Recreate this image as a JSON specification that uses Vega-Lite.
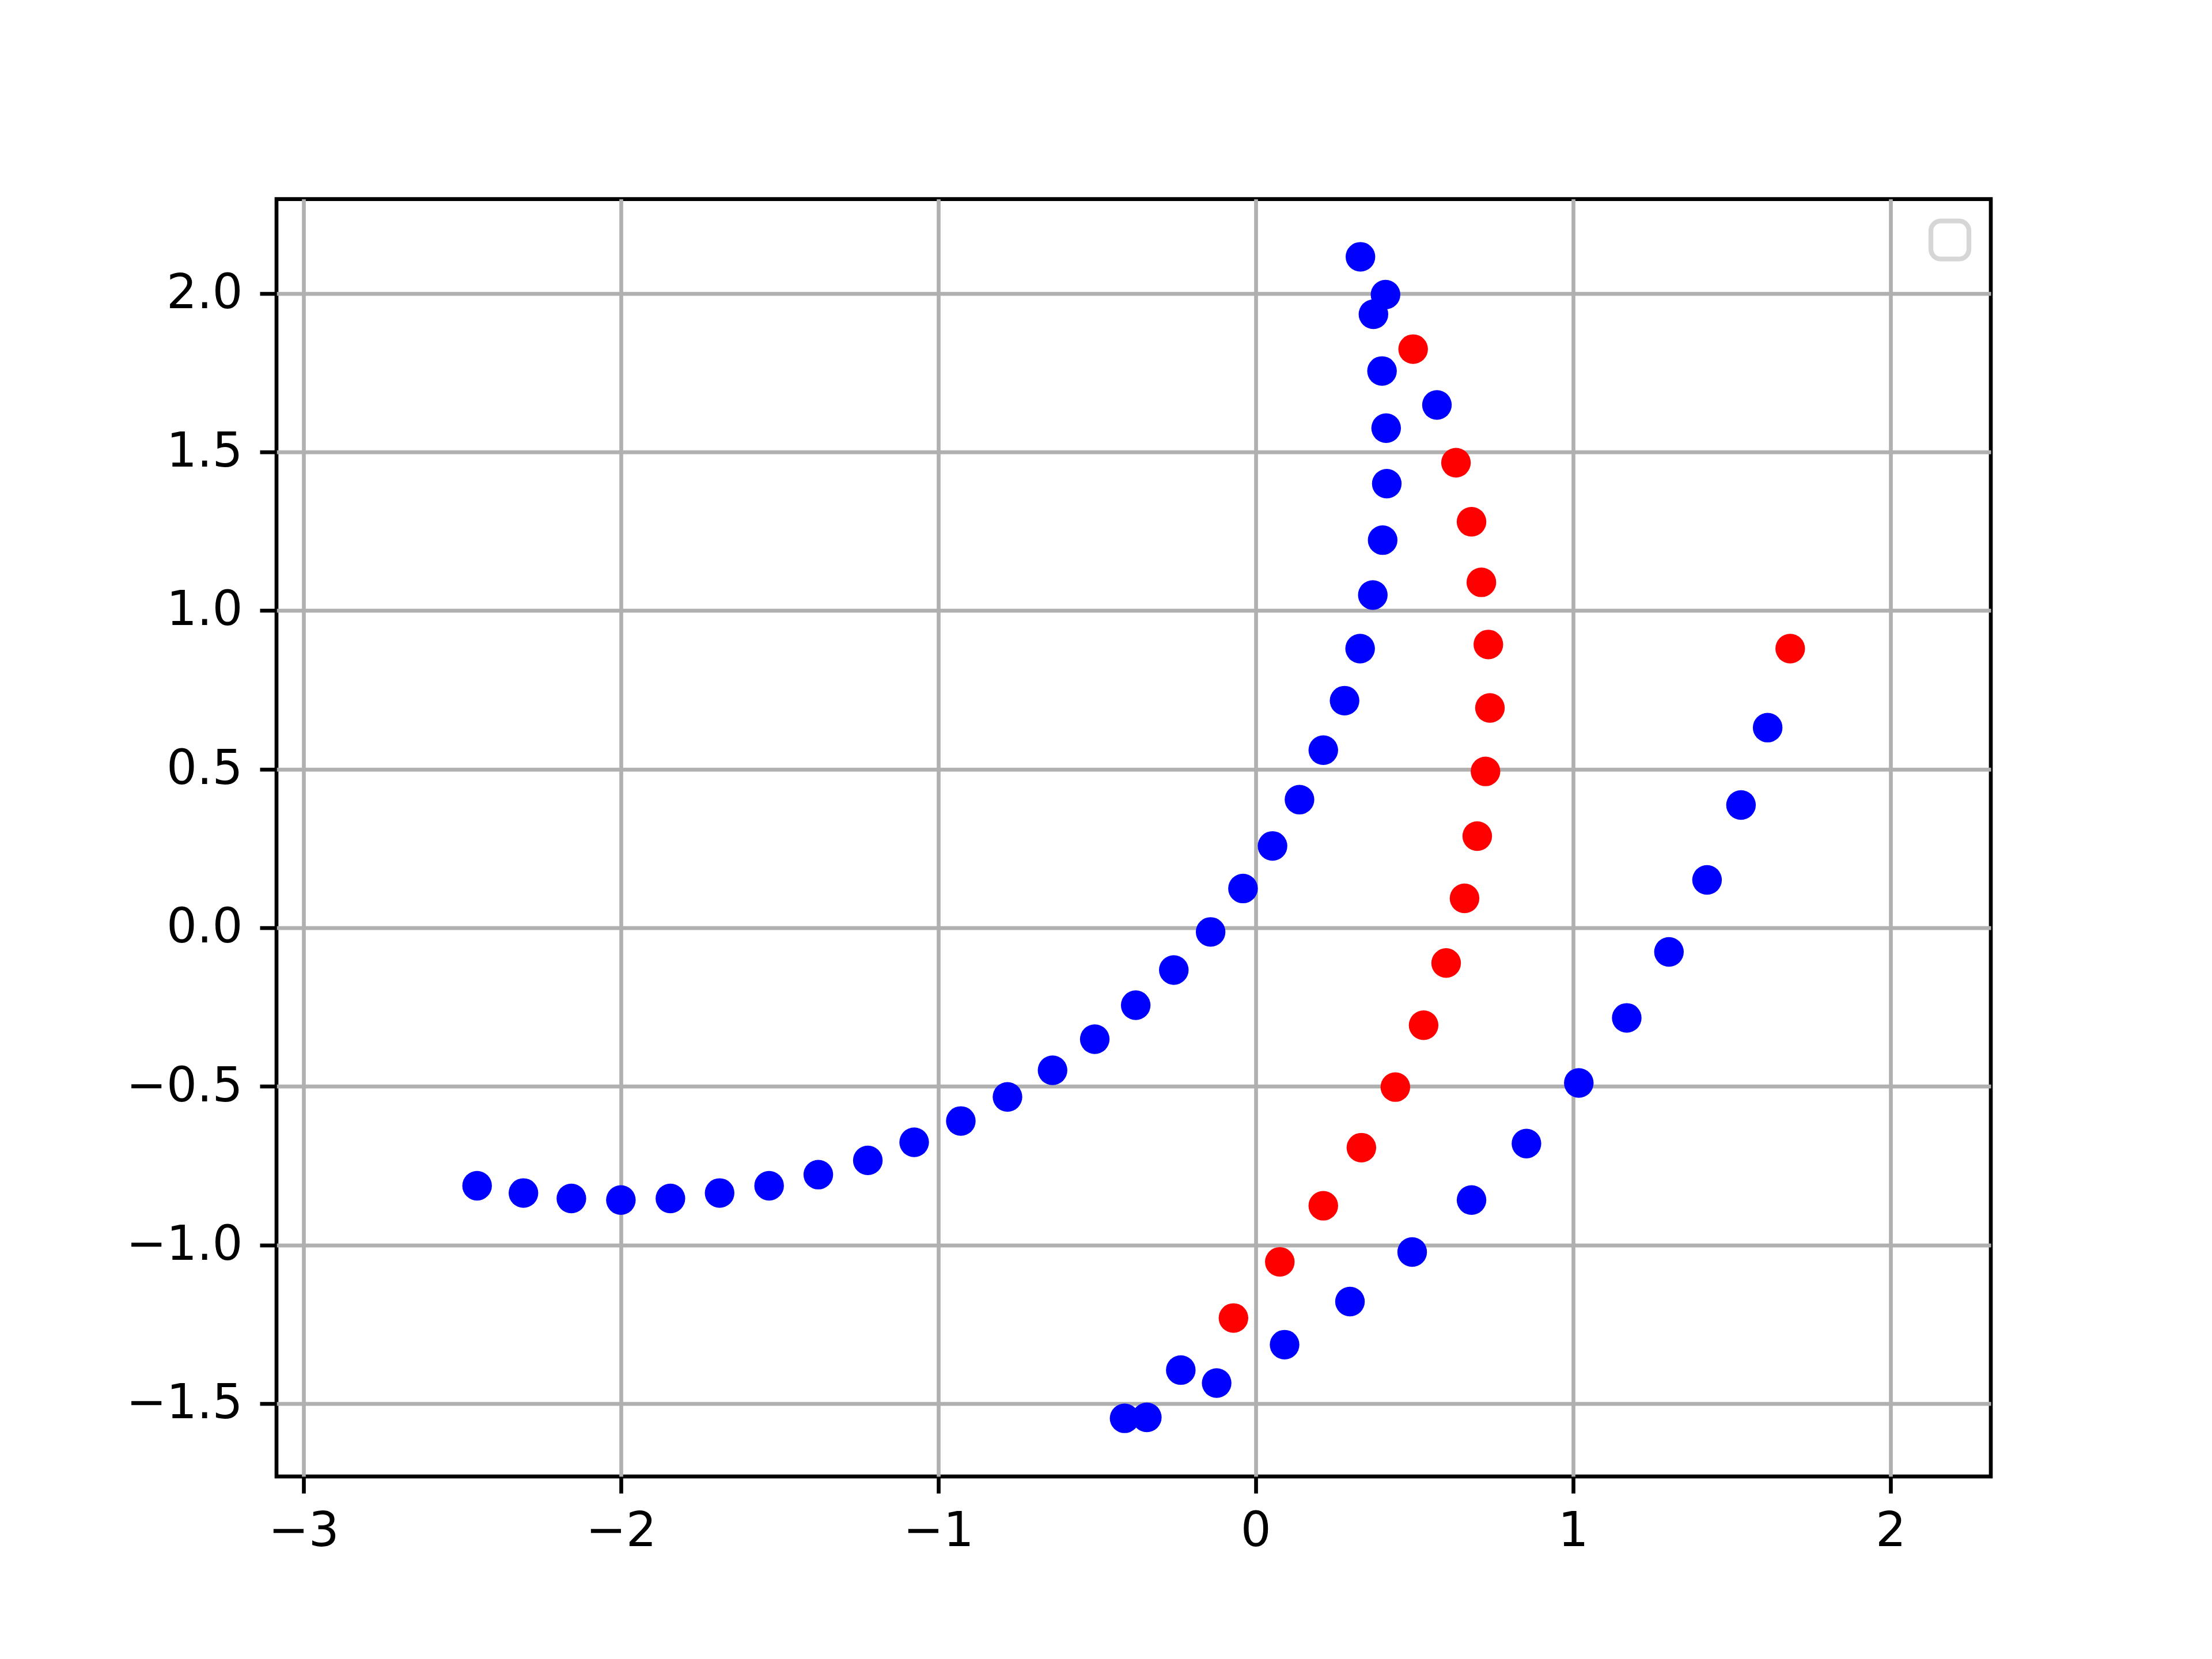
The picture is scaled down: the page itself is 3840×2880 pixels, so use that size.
{
  "$schema": "https://vega.github.io/schema/vega-lite/v6.json",
  "width": 2976,
  "height": 2217.6,
  "autosize": {"type": "none"},
  "padding": {"left": 480, "top": 345.6, "right": 384, "bottom": 316.8},
  "background": "white",
  "config": {
    "view": {"stroke": "black", "strokeWidth": 6.67},
    "axis": {
      "domain": false,
      "grid": true,
      "gridColor": "#b0b0b0",
      "gridWidth": 6.67,
      "tickColor": "black",
      "tickWidth": 6.67,
      "tickSize": 29,
      "labelFont": "DejaVu Sans",
      "labelFontSize": 83.3,
      "labelColor": "black",
      "labelPadding": 25,
      "labelLimit": 1000,
      "title": null,
      "labelFlush": false,
      "labelOverlap": false
    },
    "legend": {"strokeWidth": 8.3}
  },
  "data": {
    "values": [
      {"x": -2.453, "y": -0.813, "series": "blue"},
      {"x": -2.307, "y": -0.836, "series": "blue"},
      {"x": -2.156, "y": -0.853, "series": "blue"},
      {"x": -2.0, "y": -0.858, "series": "blue"},
      {"x": -1.844, "y": -0.853, "series": "blue"},
      {"x": -1.689, "y": -0.836, "series": "blue"},
      {"x": -1.533, "y": -0.813, "series": "blue"},
      {"x": -1.378, "y": -0.778, "series": "blue"},
      {"x": -1.222, "y": -0.733, "series": "blue"},
      {"x": -1.076, "y": -0.676, "series": "blue"},
      {"x": -0.929, "y": -0.609, "series": "blue"},
      {"x": -0.782, "y": -0.533, "series": "blue"},
      {"x": -0.64, "y": -0.449, "series": "blue"},
      {"x": -0.507, "y": -0.351, "series": "blue"},
      {"x": -0.378, "y": -0.244, "series": "blue"},
      {"x": -0.258, "y": -0.133, "series": "blue"},
      {"x": -0.142, "y": -0.013, "series": "blue"},
      {"x": -0.04, "y": 0.124, "series": "blue"},
      {"x": 0.053, "y": 0.258, "series": "blue"},
      {"x": 0.138, "y": 0.404, "series": "blue"},
      {"x": 0.213, "y": 0.56, "series": "blue"},
      {"x": 0.28, "y": 0.716, "series": "blue"},
      {"x": 0.329, "y": 0.88, "series": "blue"},
      {"x": 0.369, "y": 1.049, "series": "blue"},
      {"x": 0.4, "y": 1.222, "series": "blue"},
      {"x": 0.413, "y": 1.4, "series": "blue"},
      {"x": 0.411, "y": 1.575, "series": "blue"},
      {"x": 0.398, "y": 1.755, "series": "blue"},
      {"x": 0.371, "y": 1.934, "series": "blue"},
      {"x": 0.33, "y": 2.115, "series": "blue"},
      {"x": 0.409, "y": 1.996, "series": "blue"},
      {"x": 0.571, "y": 1.648, "series": "blue"},
      {"x": -0.413, "y": -1.546, "series": "blue"},
      {"x": -0.343, "y": -1.543, "series": "blue"},
      {"x": -0.236, "y": -1.394, "series": "blue"},
      {"x": -0.123, "y": -1.435, "series": "blue"},
      {"x": 0.091, "y": -1.314, "series": "blue"},
      {"x": 0.297, "y": -1.178, "series": "blue"},
      {"x": 0.493, "y": -1.022, "series": "blue"},
      {"x": 0.68, "y": -0.858, "series": "blue"},
      {"x": 0.853, "y": -0.68, "series": "blue"},
      {"x": 1.018, "y": -0.489, "series": "blue"},
      {"x": 1.169, "y": -0.284, "series": "blue"},
      {"x": 1.302, "y": -0.076, "series": "blue"},
      {"x": 1.422, "y": 0.151, "series": "blue"},
      {"x": 1.529, "y": 0.387, "series": "blue"},
      {"x": 1.613, "y": 0.631, "series": "blue"},
      {"x": -0.07, "y": -1.23, "series": "red"},
      {"x": 0.076, "y": -1.053, "series": "red"},
      {"x": 0.213, "y": -0.876, "series": "red"},
      {"x": 0.333, "y": -0.693, "series": "red"},
      {"x": 0.44, "y": -0.502, "series": "red"},
      {"x": 0.529, "y": -0.307, "series": "red"},
      {"x": 0.6, "y": -0.111, "series": "red"},
      {"x": 0.658, "y": 0.093, "series": "red"},
      {"x": 0.698, "y": 0.289, "series": "red"},
      {"x": 0.724, "y": 0.493, "series": "red"},
      {"x": 0.738, "y": 0.693, "series": "red"},
      {"x": 0.733, "y": 0.893, "series": "red"},
      {"x": 0.711, "y": 1.089, "series": "red"},
      {"x": 0.68, "y": 1.28, "series": "red"},
      {"x": 0.631, "y": 1.466, "series": "red"},
      {"x": 0.496, "y": 1.824, "series": "red"},
      {"x": 1.684, "y": 0.88, "series": "red"}
    ]
  },
  "mark": {"type": "point", "shape": "circle", "filled": true, "opacity": 1, "size": 2642},
  "encoding": {
    "x": {
      "field": "x",
      "type": "quantitative",
      "scale": {"domain": [-3.085, 2.316], "nice": false, "zero": false},
      "axis": {"values": [-3, -2, -1, 0, 1, 2], "format": "d"}
    },
    "y": {
      "field": "y",
      "type": "quantitative",
      "scale": {"domain": [-1.7295, 2.297], "nice": false, "zero": false},
      "axis": {"values": [-1.5, -1.0, -0.5, 0.0, 0.5, 1.0, 1.5, 2.0], "format": ".1f", "labelPadding": 30}
    },
    "color": {
      "field": "series",
      "type": "nominal",
      "scale": {"domain": ["blue", "red"], "range": ["#0000ff", "#ff0000"]},
      "legend": {
        "values": [],
        "title": null,
        "orient": "top-right",
        "offset": 38,
        "strokeColor": "#d6d6d6",
        "cornerRadius": 17,
        "fillColor": "white",
        "padding": 33
      }
    }
  }
}
